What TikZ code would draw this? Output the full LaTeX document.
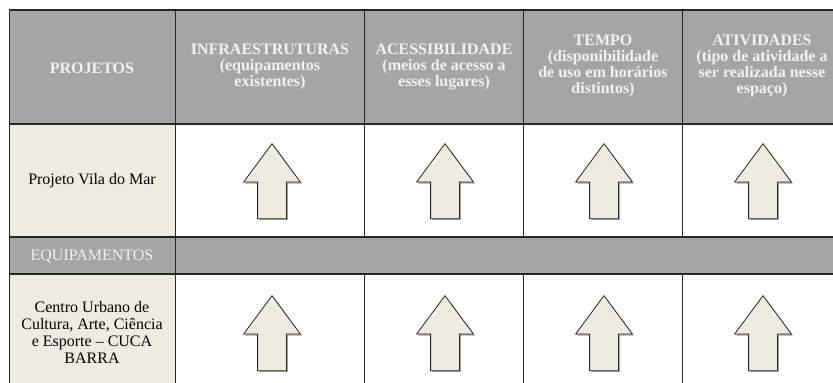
\documentclass[tikz,border=0pt]{standalone}
\usepackage{fontspec}
\setmainfont{Liberation Serif}
\usepackage{tikz}
\usetikzlibrary{shapes.arrows, shadows, positioning}
\definecolor{headgray}{HTML}{A5A5A5}
\definecolor{beige}{HTML}{EEECE1}
\definecolor{headtxt}{HTML}{F2F2F2}
\definecolor{rulecol}{HTML}{262626}
\tikzset{
  headnode/.style={align=center, font=\fontsize{16}{16}\selectfont\bfseries, text=headtxt, inner sep=0pt},
  labelnode/.style={align=center, font=\fontsize{16}{17}\selectfont, text=black, inner sep=0pt},
  sectionnode/.style={align=center, font=\fontsize{16}{16}\selectfont, text=headtxt, inner sep=0pt},
  uparrow/.style={single arrow, shape border rotate=90, draw=black!85, line width=0.8pt, fill=beige,
    inner sep=14pt, single arrow head extend=14pt, single arrow tip angle=73, minimum height=75pt,
    drop shadow={shadow xshift=1.5pt, shadow yshift=-1.5pt, fill=black, opacity=0.35}},
  hline/.style={draw=rulecol, line width=1.5pt},
  vline/.style={draw=rulecol, line width=1pt}
}
\begin{document}
\begin{tikzpicture}[x=1pt, y=-1pt]
\useasboundingbox (0,0) rectangle (833,383);
\clip (0,0) rectangle (833,383);
\fill[white] (0,0) rectangle (833,383);

% Cells
\fill[headgray] (9,10) rectangle (842,124);
\fill[beige] (9,124) rectangle (175,237);
\fill[headgray] (9,237) rectangle (842,274);
\fill[beige] (9,274) rectangle (175,391);

% Rules
\draw[hline] (9,10) -- (842,10);
\draw[hline] (9,124) -- (842,124);
\draw[hline] (9,237) -- (842,237);
\draw[hline] (9,274) -- (842,274);
\draw[vline] (9,10) -- (9,391);
\draw[vline] (175,10) -- (175,391);
\draw[vline] (364,10) -- (364,237);
\draw[vline] (523,10) -- (523,237);
\draw[vline] (682,10) -- (682,237);
\draw[vline] (364,274) -- (364,391);
\draw[vline] (523,274) -- (523,391);
\draw[vline] (682,274) -- (682,391);

% Header
\node[headnode] (hproj) at (92,68) {PROJETOS};
\node[headnode] (hinfra) at (270,67) {INFRAESTRUTURAS\\(equipamentos\\existentes)};
\node[headnode] (hacess) at (444,67) {ACESSIBILIDADE\\(meios de acesso a\\esses lugares)};
\node[headnode] (htempo) at (603,66) {TEMPO\\(disponibilidade\\de uso em horários\\distintos)};
\node[headnode] (hativ) at (762,66) {ATIVIDADES\\(tipo de atividade a\\ser realizada nesse\\espaço)};

% Rows
\node[labelnode] (vila) at (92,181) {Projeto Vila do Mar};
\node[sectionnode] (equip) at (92,256) {EQUIPAMENTOS};
\node[labelnode] (cuca) at (92,332) {Centro Urbano de\\Cultura, Arte, Ciência\\e Esporte -- CUCA\\BARRA};

% Arrows
\node[uparrow, anchor=tip] (vila1) at (272,143) {};
\node[uparrow, anchor=tip] (vila2) at (445,143) {};
\node[uparrow, anchor=tip] (vila3) at (604,143) {};
\node[uparrow, anchor=tip] (vila4) at (763,143) {};
\node[uparrow, anchor=tip] (cuca1) at (272,295) {};
\node[uparrow, anchor=tip] (cuca2) at (445,295) {};
\node[uparrow, anchor=tip] (cuca3) at (604,295) {};
\node[uparrow, anchor=tip] (cuca4) at (763,295) {};

\end{tikzpicture}
\end{document}
